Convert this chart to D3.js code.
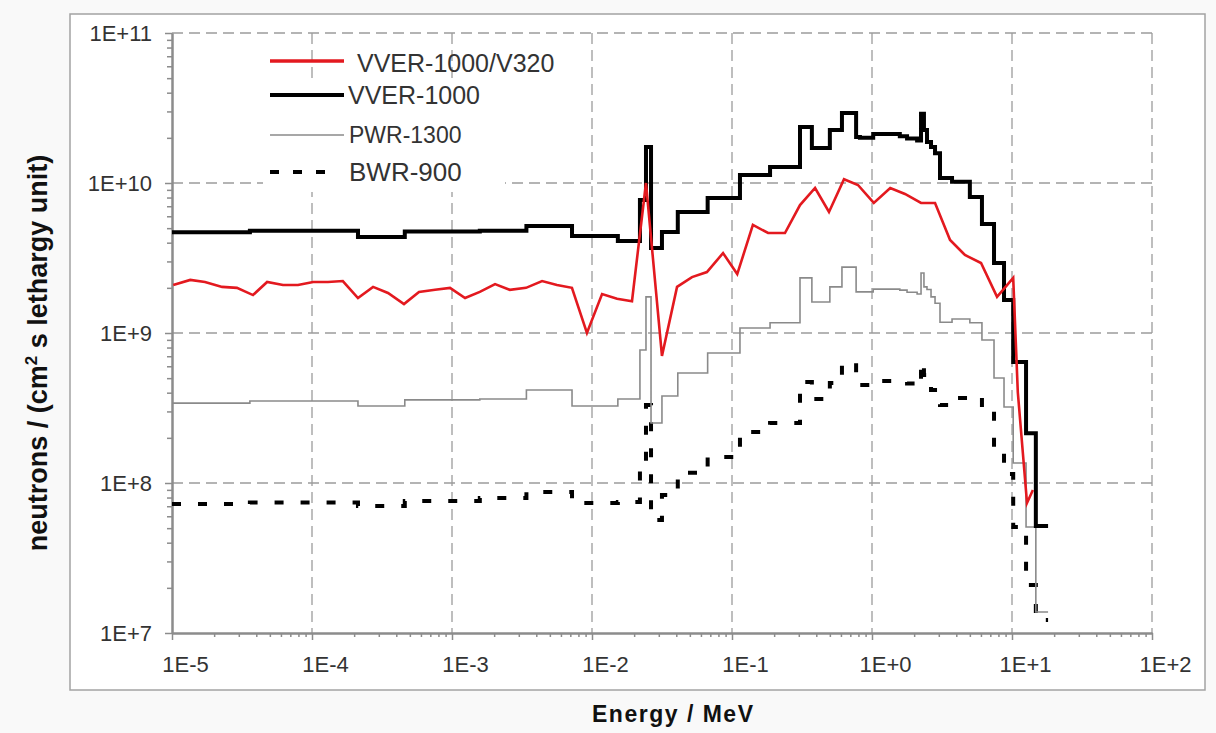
<!DOCTYPE html>
<html><head><meta charset="utf-8">
<script src="https://cdn.jsdelivr.net/npm/d3@7"></script>
<style>
body{margin:0;background:#f9f9f9;}
svg{display:block;font-family:"Liberation Sans",Arial,sans-serif;}
</style></head><body>
<svg id="chart" width="1216" height="733"></svg>
<script>
// ---- data (MeV, neutrons/(cm2 s lethargy unit)) ----
const energyEdges = [1e-5, 3.6e-5, 2.13e-4, 4.6e-4, 1.58e-3, 3.4e-3, 7.2e-3, 1.53e-2, 2.2e-2, 2.43e-2,
  2.64e-2, 3.16e-2, 4.1e-2, 6.7e-2, 0.114, 0.187, 0.306, 0.372, 0.5, 0.61,
  0.77, 0.82, 1.02, 1.58, 1.78, 2.1, 2.24, 2.35, 2.47, 2.64,
  2.82, 3.06, 3.73, 5.0, 6.1, 7.44, 8.77, 10.2, 12.6, 14.8, 18.1];
const vver1000 = [4.7e9, 4.8e9, 4.37e9, 4.75e9, 4.8e9, 5.17e9, 4.43e9, 4.1e9, 7.7e9, 1.74e10,
  3.69e9, 4.71e9, 6.41e9, 7.94e9, 1.13e10, 1.28e10, 2.36e10, 1.71e10, 2.26e10, 2.93e10,
  2.03e10, 2.0e10, 2.12e10, 2.05e10, 1.98e10, 1.92e10, 2.9e10, 2.26e10, 1.88e10, 1.74e10,
  1.58e10, 1.08e10, 1.02e10, 8.07e9, 5.33e9, 2.93e9, 1.66e9, 6.41e8, 2.15e8, 5.17e7];
const pwr1300 = [3.41e8, 3.52e8, 3.26e8, 3.58e8, 3.63e8, 4.17e8, 3.26e8, 3.63e8, 7.7e8, 1.74e9,
  2.51e8, 3.8e8, 5.41e8, 7.36e8, 1.08e9, 1.17e9, 2.33e9, 1.61e9, 2.03e9, 2.75e9,
  1.88e9, 1.88e9, 1.96e9, 1.93e9, 1.87e9, 1.82e9, 2.51e9, 2.03e9, 1.95e9, 1.74e9,
  1.58e9, 1.18e9, 1.24e9, 1.17e9, 8.98e8, 5.01e8, 3.21e8, 1.36e8, 5.09e7, 1.38e7];
const bwr900 = [7.24e7, 7.4e7, 7.03e7, 7.59e7, 7.94e7, 8.71e7, 7.36e7, 7.47e7, 1.36e8, 3.31e8,
  5.66e7, 8.32e7, 1.17e8, 1.49e8, 2.19e8, 2.51e8, 4.71e8, 3.63e8, 4.64e8, 6.31e8,
  4.5e8, 4.5e8, 4.79e8, 4.79e8, 4.6e8, 4.4e8, 6.41e8, 5.25e8, 4.44e8, 4.17e8,
  3.86e8, 3.31e8, 3.69e8, 3.75e8, 3.11e8, 1.69e8, 1.15e8, 5.09e7, 2.09e7, 1.22e7];
const v320Energy = [1.02e-5, 1.35e-5, 1.72e-5, 2.28e-5, 2.91e-5, 3.79e-5, 4.78e-5, 6.21e-5, 7.94e-5, 1.02e-4,
  1.30e-4, 1.66e-4, 2.13e-4, 2.73e-4, 3.49e-4, 4.54e-4, 5.81e-4, 7.57e-4, 9.68e-4, 1.24e-3,
  1.58e-3, 2.03e-3, 2.59e-3, 3.38e-3, 4.40e-3, 5.62e-3, 7.19e-3, 9.2e-3, 1.18e-2, 1.51e-2,
  1.93e-2, 2.43e-2, 3.16e-2, 4.05e-2, 5.18e-2, 6.62e-2, 8.63e-2, 0.109, 0.141, 0.181,
  0.239, 0.306, 0.392, 0.493, 0.631, 0.794, 1.03, 1.35, 1.72, 2.24,
  2.82, 3.61, 4.61, 6.01, 7.82, 10.2, 11.0, 12.8, 14.1];
const v320Flux = [2.09e9, 2.26e9, 2.19e9, 2.03e9, 2.0e9, 1.79e9, 2.19e9, 2.09e9, 2.09e9, 2.19e9,
  2.19e9, 2.22e9, 1.71e9, 2.03e9, 1.85e9, 1.56e9, 1.88e9, 1.94e9, 2.0e9, 1.71e9,
  1.88e9, 2.12e9, 1.94e9, 2.0e9, 2.22e9, 2.09e9, 2.0e9, 1.0e9, 1.82e9, 1.69e9,
  1.63e9, 1.0e10, 7.03e8, 2.03e9, 2.36e9, 2.55e9, 3.41e9, 2.47e9, 5.25e9, 4.64e9,
  4.64e9, 7.13e9, 9.26e9, 6.41e9, 1.06e10, 9.7e9, 7.36e9, 9.26e9, 8.45e9, 7.36e9,
  7.36e9, 4.17e9, 3.31e9, 2.93e9, 1.74e9, 2.33e9, 4.04e8, 7.36e7, 8.98e7];
const xTickValues = [1e-5, 1e-4, 1e-3, 1e-2, 1e-1, 1, 10, 100];
const xTickLabels = ["1E-5", "1E-4", "1E-3", "1E-2", "1E-1", "1E+0", "1E+1", "1E+2"];
const yTickValues = [1e7, 1e8, 1e9, 1e10, 1e11];
const yTickLabels = ["1E+7", "1E+8", "1E+9", "1E+10", "1E+11"];
const legendNames = ["VVER-1000/V320", "VVER-1000", "PWR-1300", "BWR-900"];
const xTitle = "Energy / MeV";

// ---- drawing ----
const svg = d3.select("#chart");
const plot = {left: 172, right: 1152, top: 33, bottom: 633};

svg.append("rect").attr("x", 70).attr("y", 14).attr("width", 1135).attr("height", 676)
  .attr("fill", "#fff").attr("stroke", "#a3a3a3").attr("stroke-width", 1.5);

const x = d3.scaleLog().domain([1e-5, 100]).range([plot.left, plot.right]);
const y = d3.scaleLog().domain([1e7, 1e11]).range([plot.bottom, plot.top]);

// grid
const grid = svg.append("g").attr("stroke", "#9c9c9c").attr("stroke-width", 1.3).attr("stroke-dasharray", "11,6");
xTickValues.slice(1).forEach(v => grid.append("line").attr("x1", x(v)).attr("x2", x(v)).attr("y1", plot.top).attr("y2", plot.bottom));
yTickValues.slice(1).forEach(v => grid.append("line").attr("x1", plot.left).attr("x2", plot.right).attr("y1", y(v)).attr("y2", y(v)));

function styleAxis(g) {
  g.select(".domain").attr("stroke", "#8c8c8c").attr("stroke-width", 2);
  g.selectAll(".tick line").attr("stroke", "#8c8c8c").attr("stroke-width", 1.5);
  g.selectAll(".tick text").attr("fill", "#333").attr("font-size", 22);
}
const isDecade = v => Math.abs(Math.log10(v) - Math.round(Math.log10(v))) < 1e-9;
const xMinor = x.ticks().filter(v => !isDecade(v));
const yMinor = y.ticks().filter(v => !isDecade(v));

svg.append("g").attr("transform", `translate(0,${plot.bottom})`)
  .call(d3.axisBottom(x).tickValues(xMinor).tickSize(4).tickSizeOuter(0).tickFormat(""))
  .call(styleAxis);
const gx = svg.append("g").attr("transform", `translate(0,${plot.bottom})`)
  .call(d3.axisBottom(x).tickValues(xTickValues).tickSize(7).tickSizeOuter(0).tickPadding(16)
    .tickFormat((d, i) => xTickLabels[i]))
  .call(styleAxis);
gx.selectAll(".tick text").attr("dx", 13);

svg.append("g").attr("transform", `translate(${plot.left},0)`)
  .call(d3.axisLeft(y).tickValues(yMinor).tickSize(5).tickSizeOuter(0).tickFormat(""))
  .call(styleAxis);
svg.append("g").attr("transform", `translate(${plot.left},0)`)
  .call(d3.axisLeft(y).tickValues(yTickValues).tickSize(7).tickSizeOuter(0).tickPadding(13)
    .tickFormat((d, i) => yTickLabels[i]))
  .call(styleAxis);

// legend background
svg.append("rect").attr("x", 263).attr("y", 78).attr("width", 242).attr("height", 114).attr("fill", "#fff");

// series
const stepLine = d3.line().x(d => x(d[0])).y(d => y(d[1])).curve(d3.curveStepAfter);
const stepPts = vals => energyEdges.map((e, i) => [e, vals[Math.min(i, vals.length - 1)]]);

svg.append("path").datum(stepPts(bwr900)).attr("d", stepLine).attr("fill", "none")
  .attr("stroke", "#000").attr("stroke-width", 4).attr("stroke-dasharray", "9,17");
svg.append("path").datum(stepPts(pwr1300)).attr("d", stepLine).attr("fill", "none")
  .attr("stroke", "#8a8a8a").attr("stroke-width", 1.6);
svg.append("path").datum(stepPts(vver1000)).attr("d", stepLine).attr("fill", "none")
  .attr("stroke", "#000").attr("stroke-width", 4);
const redLine = d3.line().x(d => x(d[0])).y(d => y(d[1]));
svg.append("path").datum(v320Energy.map((e, i) => [e, v320Flux[i]])).attr("d", redLine).attr("fill", "none")
  .attr("stroke", "#e3191f").attr("stroke-width", 2.6).attr("stroke-linejoin", "miter");

// legend
const legendStyle = [
  {stroke: "#e3191f", w: 3.5, dash: null, ly: 61, tx: 357, ty: 72, fs: 25},
  {stroke: "#000", w: 4, dash: null, ly: 95, tx: 348, ty: 104, fs: 25},
  {stroke: "#8a8a8a", w: 1.6, dash: null, ly: 135, tx: 349, ty: 143, fs: 23},
  {stroke: "#000", w: 4, dash: "9,14", ly: 172, tx: 349, ty: 181, fs: 26}
];
legendNames.forEach((name, i) => {
  const s = legendStyle[i];
  const ln = svg.append("line").attr("x1", 270).attr("x2", i === 3 ? 334 : 344).attr("y1", s.ly).attr("y2", s.ly)
    .attr("stroke", s.stroke).attr("stroke-width", s.w);
  if (s.dash) ln.attr("stroke-dasharray", s.dash);
  svg.append("text").attr("x", s.tx).attr("y", s.ty).attr("font-size", s.fs).attr("fill", "#333").text(name);
});

// axis titles
svg.append("text").attr("x", 592).attr("y", 722).attr("font-size", 23).attr("font-weight", "bold")
  .attr("fill", "#111").attr("textLength", 161).attr("lengthAdjust", "spacing").text(xTitle);
const yt = svg.append("text").attr("transform", "translate(47,353) rotate(-90)").attr("text-anchor", "middle")
  .attr("font-size", 27).attr("font-weight", "bold").attr("fill", "#111");
yt.append("tspan").text("neutrons / (cm");
yt.append("tspan").attr("font-size", 17).attr("dy", -10).text("2");
yt.append("tspan").attr("dy", 10).text(" s lethargy unit)");
</script>
</body></html>
